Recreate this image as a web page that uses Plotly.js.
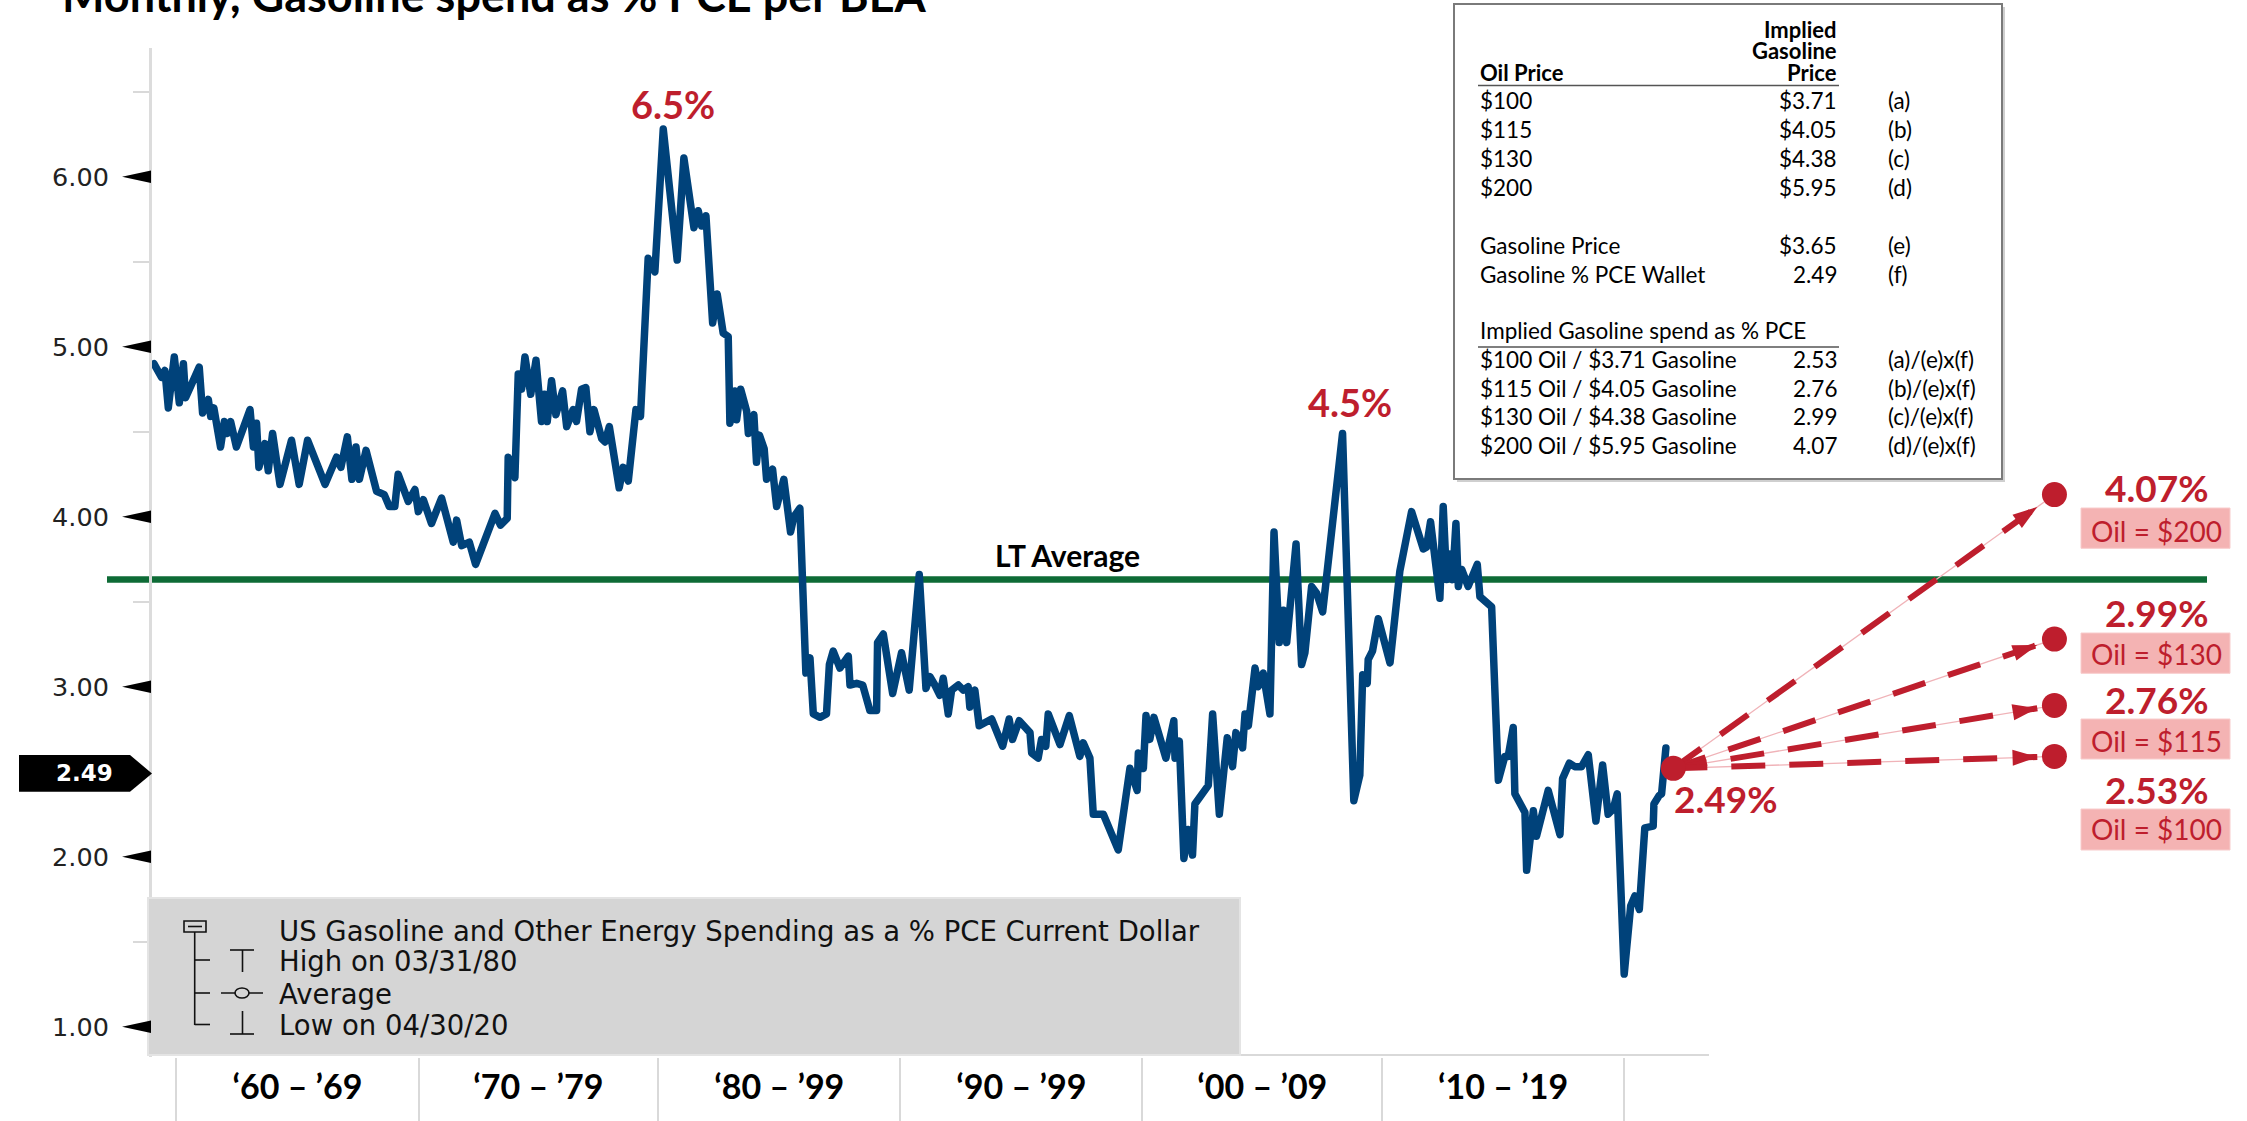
<!DOCTYPE html>
<html><head><meta charset="utf-8">
<script src="https://cdn.plot.ly/plotly-3.0.1.min.js"></script>
<style>
html,body{margin:0;padding:0;background:#fff;}
#chart{width:2247px;height:1121px;}
.scatterlayer .trace:first-child .js-line{stroke-linejoin:round;stroke-linecap:round;}
</style></head><body><div id="chart"></div>
<script>
// ---------------- DATA ----------------
const years = [
1959.06,1959.38,1959.52,1959.66,1959.91,1960.12,1960.29,1960.38,1960.95,1961.09,1961.33,1961.43,1961.56,1961.84,1962.00,1962.12,1962.26,1962.50,
1963.07,1963.21,1963.34,1963.44,1963.69,1963.83,1964.01,1964.32,1964.80,1965.12,1965.47,1966.20,1966.68,1966.86,1967.13,1967.32,1967.49,1967.63,
1967.91,1968.35,1968.67,1968.88,1969.11,1969.25,1969.67,1969.95,1970.09,1970.30,1970.64,1971.06,1971.55,1971.69,1971.90,1972.22,1972.48,1973.29,
1973.52,1973.80,1973.84,1974.12,1974.26,1974.40,1974.54,1974.78,1975.00,1975.23,1975.35,1975.47,1975.65,1975.83,1976.11,1976.28,1976.55,1976.69,
1976.90,1977.08,1977.25,1977.42,1977.74,1977.88,1978.06,1978.47,1978.64,1978.85,1979.17,1979.36,
1979.68,1979.96,1980.31,1980.89,1981.17,1981.59,1981.77,1981.91,1982.09,1982.37,1982.56,1982.81,1983.02,1983.09,1983.30,1983.37,1983.54,1983.79,
1983.86,1984.09,1984.20,1984.32,1984.52,1984.62,1984.87,1985.04,1985.34,1985.62,1985.76,1986.01,1986.26,1986.43,1986.57,1986.85,1987.12,1987.24,
1987.40,1987.68,1988.03,1988.10,1988.38,1988.63,1988.93,1989.21,1989.25,1989.49,1989.88,
1990.25,1990.57,1990.99,1991.27,1991.43,1991.64,1991.85,1991.99,1992.20,1992.34,1992.62,1992.83,1993.03,1993.10,1993.31,1993.49,1994.01,1994.47,
1994.74,1994.88,1995.16,1995.61,1995.68,1995.95,1996.09,1996.27,1996.37,1996.86,1997.25,1997.69,1997.83,1998.11,1998.25,1998.67,1999.29,1999.78,
2000.08,2000.13,2000.34,2000.45,2000.61,2000.78,2001.28,2001.61,
2001.66,2001.84,2002.03,2002.21,2002.39,2002.49,2003.05,2003.23,2003.51,2003.84,2004.06,2004.20,2004.48,2004.58,2004.72,2005.00,2005.13,2005.34,
2005.62,2005.79,2006.01,2006.18,2006.32,2006.71,2006.94,2007.08,2007.36,2007.57,2007.82,2008.65,2009.12,2009.37,2009.49,2009.68,2009.72,2009.90,
2010.14,2010.63,
2010.83,2011.04,2011.53,2012.02,2012.15,2012.32,2012.71,2012.85,2012.99,2013.13,2013.24,2013.38,2013.48,2013.62,2013.89,2014.27,2014.38,2014.87,
2015.15,2015.42,2015.56,2015.77,2015.84,2016.26,2016.33,2016.61,2016.74,2017.23,2017.72,2017.83,2018.11,2018.34,2018.62,2018.90,2019.22,2019.50,
2019.73,2019.94,2020.11,2020.40,2020.67,2020.85,2021.03,2021.26,2021.61,2021.64,2021.86,2021.96,2022.14
];
const spendPct = [
4.90,4.82,4.86,4.64,4.94,4.67,4.90,4.70,4.88,4.61,4.69,4.59,4.64,4.41,4.56,4.49,4.56,4.41,
4.63,4.41,4.55,4.29,4.43,4.27,4.49,4.19,4.45,4.19,4.45,4.19,4.35,4.29,4.47,4.22,4.41,4.22,
4.39,4.15,4.13,4.06,4.06,4.25,4.09,4.16,4.03,4.10,3.96,4.11,3.85,3.98,3.83,3.85,3.72,4.02,
3.95,3.99,4.35,4.23,4.84,4.75,4.94,4.72,4.92,4.56,4.72,4.56,4.80,4.60,4.74,4.53,4.63,4.56,
4.75,4.76,4.50,4.63,4.46,4.44,4.53,4.17,4.29,4.21,4.63,4.59,
5.52,5.44,6.28,5.51,6.11,5.70,5.80,5.71,5.77,5.14,5.31,5.08,5.06,4.55,4.74,4.57,4.75,4.62,
4.49,4.60,4.32,4.48,4.40,4.22,4.28,4.06,4.22,3.91,4.00,4.05,3.08,3.17,2.84,2.82,2.84,3.13,
3.21,3.11,3.18,3.01,3.02,3.01,2.86,2.86,3.26,3.31,2.96,
3.20,2.98,3.66,2.99,3.06,3.01,2.95,3.05,2.84,2.98,3.01,2.98,3.00,2.88,2.98,2.77,2.81,2.65,
2.81,2.69,2.80,2.73,2.61,2.58,2.69,2.65,2.84,2.66,2.83,2.59,2.67,2.58,2.25,2.25,2.04,2.52,
2.39,2.61,2.52,2.83,2.69,2.82,2.58,2.80,
2.58,2.68,1.99,2.16,2.01,2.31,2.42,2.84,2.25,2.70,2.53,2.73,2.64,2.84,2.77,3.11,3.00,3.08,
2.84,3.91,3.26,3.45,3.26,3.84,3.13,3.20,3.59,3.55,3.44,4.49,2.33,2.48,3.07,3.02,3.16,3.21,
3.40,3.14,
3.42,3.68,4.03,3.81,3.82,3.97,3.52,4.06,3.63,3.78,3.63,3.96,3.59,3.69,3.59,3.72,3.53,3.47,
2.45,2.59,2.59,2.76,2.37,2.26,1.92,2.27,2.12,2.39,2.13,2.46,2.55,2.53,2.53,2.60,2.21,2.54,
2.25,2.28,2.37,1.31,1.71,1.77,1.69,2.17,2.18,2.31,2.36,2.37,2.64
];
const ltAverage = 3.63;
const currentValue = 2.49;
const yTickVals = [1,2,3,4,5,6];
const yTickText = ['1.00','2.00','3.00','4.00','5.00','6.00'];
const yMinorVals = [1.5,2.5,3.5,4.5,5.5,6.5];
// decade dividers / label centres as placed on the reference's axis
const decadeEdges = [1960.0,1970.1,1980.1,1990.2,2000.3,2010.3,2020.4];
const decadeCenters = [1965.05,1975.1,1985.15,1995.25,2005.3,2015.35];
const decadeLabels = ['‘60 – ’69','‘70 – ’79','‘80 – ’99','‘90 – ’99','‘00 – ’09','‘10 – ’19'];

// projection (start dot and scenario dots as drawn)
const projStart = [2022.45, 2.52];
const projEndYear = 2038.35;
const projDotY = [4.13, 3.28, 2.89, 2.59];
const projPct = ['4.07%','2.99%','2.76%','2.53%'];
const projOil = ['$200','$130','$115','$100'];

// table
const oilPrices = ['$100','$115','$130','$200'];
const gasPrices = ['$3.71','$4.05','$4.38','$5.95'];
const rowTags = ['(a)','(b)','(c)','(d)'];
const currentRows = [['Gasoline Price','$3.65','(e)'],['Gasoline % PCE Wallet','2.49','(f)']];
const scenarioLabels = ['$100 Oil / $3.71 Gasoline','$115 Oil / $4.05 Gasoline','$130 Oil / $4.38 Gasoline','$200 Oil / $5.95 Gasoline'];
const scenarioSpend = ['2.53','2.76','2.99','4.07'];
const scenarioFormula = ['(a)/(e)x(f)','(b)/(e)x(f)','(c)/(e)x(f)','(d)/(e)x(f)'];

const legendItems = ['US Gasoline and Other Energy Spending as a % PCE Current Dollar','High on 03/31/80','Average','Low on 04/30/20'];

// ---------------- LAYOUT HELPERS ----------------
const L=152,R=2210,T=48,B=1057;
const PX=x=>(x-L)/(R-L), PY=y=>(B-y)/(B-T);
const crimson='#be1e2d', navy='#00427a';
function txt(text,x,base,size,o){
  o=o||{};
  return {text:o.bold?'<b>'+text+'</b>':text, xref:'paper', yref:'paper', x:PX(x), y:PY(base-0.34*size),
    xanchor:o.xa||'center', yanchor:'middle', showarrow:false,
    font:{family:o.family||'Lato', size:size, color:o.color||'#000'}};
}

const traces=[];
traces.push({x:years,y:spendPct,type:'scatter',mode:'lines',line:{color:navy,width:7.5},hoverinfo:'skip'});

// projection arrows
const tipFrac=0.955;
projDotY.forEach(v=>{
  traces.push({x:[projStart[0],projEndYear],y:[projStart[1],v],mode:'lines',line:{color:'#f0b3b8',width:1.3},hoverinfo:'skip'});
});
projDotY.forEach(v=>{
  const tx=projStart[0]+tipFrac*(projEndYear-projStart[0]);
  const ty=projStart[1]+tipFrac*(v-projStart[1]);
  traces.push({x:[projStart[0],tx],y:[projStart[1],ty],mode:'lines',line:{color:crimson,width:6,dash:'34px,24px'},hoverinfo:'skip'});
  traces.push({x:[projStart[0],tx],y:[projStart[1],ty],mode:'markers',
    marker:{symbol:'arrow',angleref:'previous',size:[0,26],color:crimson,opacity:[0,1],line:{width:0}},hoverinfo:'skip'});
});
traces.push({x:[projStart[0]].concat(projDotY.map(()=>projEndYear)),y:[projStart[1]].concat(projDotY),mode:'markers',
  marker:{size:25,color:crimson,line:{width:0}},hoverinfo:'skip'});

// ---------------- SHAPES ----------------
const shapes=[];
shapes.push({type:'line',xref:'paper',yref:'y',x0:PX(107),x1:PX(2207),y0:ltAverage,y1:ltAverage,line:{color:'#0e6b36',width:6.5},layer:'below'});
shapes.push({type:'line',xref:'paper',yref:'paper',x0:0,x1:PX(1709),y0:PY(1055),y1:PY(1055),line:{color:'#d9d9d9',width:2}});
// legend box
shapes.push({type:'rect',xref:'paper',yref:'paper',x0:PX(148),x1:PX(1240),y0:PY(898),y1:PY(1055),fillcolor:'#d5d5d5',line:{color:'#e4e4e4',width:2},layer:'above'});
const lk={color:'#111',width:1.6};
const ln=(x0,y0,x1,y1)=>shapes.push({type:'line',xref:'paper',yref:'paper',x0:PX(x0),x1:PX(x1),y0:PY(y0),y1:PY(y1),line:lk,layer:'above'});
shapes.push({type:'rect',xref:'paper',yref:'paper',x0:PX(184),x1:PX(206),y0:PY(921),y1:PY(932),line:lk,fillcolor:'rgba(0,0,0,0)',layer:'above'});
ln(188,926.5,202,926.5);
ln(194.7,932,194.7,1025); ln(194.7,960,210,960); ln(194.7,993,210,993); ln(194.7,1024.5,210,1024.5);
ln(230,950,254,950); ln(242.5,950,242.5,972);
ln(221,993,263,993);
shapes.push({type:'circle',xref:'paper',yref:'paper',x0:PX(235),x1:PX(249),y0:PY(988),y1:PY(998),line:lk,fillcolor:'#d5d5d5',layer:'above'});
ln(242.5,1011,242.5,1034); ln(230,1034,254,1034);
// y tick triangles
yTickVals.forEach(v=>shapes.push({type:'path',xref:'paper',yref:'y',path:`M ${PX(122)},${v} L ${PX(151)},${v+0.037} L ${PX(151)},${v-0.037} Z`,fillcolor:'#000',line:{width:0},layer:'above'}));
// current-value tag
const th=0.108;
shapes.push({type:'path',xref:'paper',yref:'y',path:`M ${PX(19)},${currentValue+th} L ${PX(130)},${currentValue+th} L ${PX(152)},${currentValue} L ${PX(130)},${currentValue-th} L ${PX(19)},${currentValue-th} Z`,fillcolor:'#000',line:{width:0},layer:'above'});
// table box
shapes.push({type:'rect',xref:'paper',yref:'paper',x0:PX(1457),x1:PX(2005),y0:PY(7),y1:PY(482),fillcolor:'#cfcfcf',line:{width:0},layer:'above'});
shapes.push({type:'rect',xref:'paper',yref:'paper',x0:PX(1454),x1:PX(2002),y0:PY(4),y1:PY(479),fillcolor:'#fff',line:{color:'#7a7a7a',width:2},layer:'above'});
shapes.push({type:'line',xref:'paper',yref:'paper',x0:PX(1478),x1:PX(1839),y0:PY(85.5),y1:PY(85.5),line:{color:'#555',width:1.5},layer:'above'});
shapes.push({type:'line',xref:'paper',yref:'paper',x0:PX(1478),x1:PX(1839),y0:PY(347),y1:PY(347),line:{color:'#555',width:1.5},layer:'above'});
// pink label boxes
const boxY=[[508,548.3],[633,673.3],[719,759],[809,850]];
boxY.forEach(b=>shapes.push({type:'rect',xref:'paper',yref:'paper',x0:PX(2081),x1:PX(2230),y0:PY(b[0]),y1:PY(b[1]),fillcolor:'#f4b3b3',line:{color:'#f8cccc',width:1},layer:'above'}));

// ---------------- ANNOTATIONS ----------------
const ann=[];
ann.push(txt('Monthly, Gasoline spend as % PCE per BEA',60,10,45,{bold:true,xa:'left'}));
ann.push(txt('6.5%',673,117,38,{bold:true,color:crimson}));
ann.push(txt('4.5%',1350,415,38,{bold:true,color:crimson}));
ann.push(txt('LT Average',1067,565,30,{bold:true}));
ann.push(txt('2.49%',1672,811,37,{bold:true,color:crimson,xa:'left'}));
const pctBase=[500,625,711.7,801.7], oilBase=[541,664,751,839];
projPct.forEach((p,i)=>{
  ann.push(txt(p,2157,pctBase[i],37,{bold:true,color:crimson}));
  ann.push(txt('Oil = '+projOil[i],2156,oilBase[i],28,{color:crimson}));
});
ann.push({text:'<b>'+currentValue.toFixed(2)+'</b>',xref:'paper',yref:'y',x:PX(84),y:currentValue,xanchor:'center',yanchor:'middle',showarrow:false,font:{family:'DejaVu Sans',size:23,color:'#fff'}});
// table text
const TF=22.5, HF=22;
const cL=1478, cV=1839, cT=1886;
ann.push(txt('Implied',cV,36.7,HF,{bold:true,xa:'right'}));
ann.push(txt('Gasoline',cV,58,HF,{bold:true,xa:'right'}));
ann.push(txt('Price',cV,80,HF,{bold:true,xa:'right'}));
ann.push(txt('Oil Price',cL,80,HF,{bold:true,xa:'left'}));
const rowBase=[108,137,166,195];
oilPrices.forEach((o,i)=>{
  ann.push(txt(o,cL,rowBase[i],TF,{xa:'left'}));
  ann.push(txt(gasPrices[i],cV,rowBase[i],TF,{xa:'right'}));
  ann.push(txt(rowTags[i],cT,rowBase[i],TF,{xa:'left'}));
});
const curBase=[253,282];
currentRows.forEach((r,i)=>{
  ann.push(txt(r[0],cL,curBase[i],TF,{xa:'left'}));
  ann.push(txt(r[1],cV,curBase[i],TF,{xa:'right'}));
  ann.push(txt(r[2],cT,curBase[i],TF,{xa:'left'}));
});
ann.push(txt('Implied Gasoline spend as % PCE',cL,338,TF,{xa:'left'}));
const scBase=[367,396,424,453];
scenarioLabels.forEach((s,i)=>{
  ann.push(txt(s,cL,scBase[i],TF,{xa:'left'}));
  ann.push(txt(scenarioSpend[i],cV,scBase[i],TF,{xa:'right'}));
  ann.push(txt(scenarioFormula[i],cT,scBase[i],TF,{xa:'left'}));
});
// legend text
const legBase=[940,970.7,1003.3,1034];
legendItems.forEach((t,i)=>ann.push(txt(t,277,legBase[i],27.5,{xa:'left',family:'DejaVu Sans',color:'#111'})));

const layout={
  width:2247,height:1121,margin:{l:L,r:2247-R,t:T,b:1121-B},
  paper_bgcolor:'#fff',plot_bgcolor:'#fff',showlegend:false,
  xaxis:{range:[1958.98,2044.84],showgrid:false,zeroline:false,showline:false,
    tickmode:'array',tickvals:decadeCenters,ticktext:decadeLabels.map(s=>'<b>'+s+'</b>'),
    ticks:'outside',ticklen:0,tickcolor:'rgba(0,0,0,0)',
    tickfont:{family:'Lato',size:34,color:'#000'},
    minor:{tickmode:'array',tickvals:decadeEdges,ticks:'outside',ticklen:64,tickcolor:'#d9d9d9',tickwidth:2,showgrid:false}},
  yaxis:{range:[0.822,6.757],showgrid:false,zeroline:false,showline:true,linecolor:'#dcdcdc',linewidth:3,
    tickmode:'array',tickvals:yTickVals,ticktext:yTickText,ticks:'outside',ticklen:35,tickcolor:'rgba(0,0,0,0)',
    tickfont:{family:'DejaVu Sans',size:25.5,color:'#222'},
    minor:{tickmode:'array',tickvals:yMinorVals,ticks:'outside',ticklen:16,tickcolor:'#d9d9d9',tickwidth:2,showgrid:false}},
  shapes:shapes,annotations:ann
};
Plotly.newPlot('chart',traces,layout,{staticPlot:true});
</script></body></html>
